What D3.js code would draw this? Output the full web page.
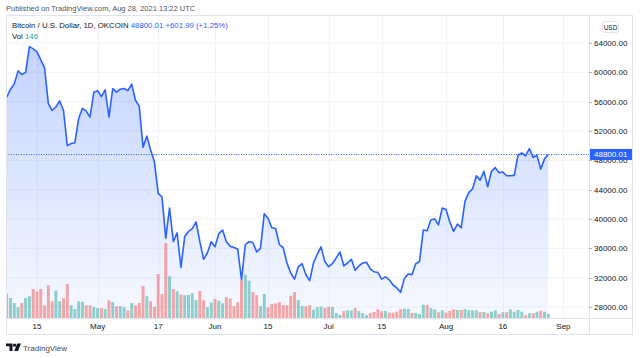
<!DOCTYPE html>
<html><head><meta charset="utf-8">
<script src="https://cdn.jsdelivr.net/npm/d3@7"></script>
<style>
html,body{margin:0;padding:0;background:#fff;}
svg{display:block;font-family:"Liberation Sans",Arial,sans-serif;}
</style></head>
<body><svg id="c" width="640" height="358"></svg>
<script>
// ---------- DATA ----------
const startDate = "2021-04-07";
const prevClose = 58000;
const closesApr = [56600,57700,58400,60200,59700,60000,63500,63200,62800,61700,60600,55700,54800,55300,56100,54800,50000,50300,50400,53700,55100,54700,53900,57300];
const closesMay = [57500,56700,57600,53900,57800,57300,57700,57800,57500,58400,56200,55400,49800,51300,49400,47800,43500,43000,37400,41500,36900,38100,33400,37600,38300,38700,39600,36900,34500,35400,36900];
const closesJun = [36200,38000,38500,36900,36300,36100,35900,31700,36500,36900,36800,35500,36000,40700,40100,38800,38700,36500,36100,34000,32600,31800,33500,33900,32400,31600,34000,35200,36200,34200];
const closesJul = [33500,33900,34700,35500,33600,34000,34500,33000,33600,34000,34100,33200,32800,32700,31800,32100,31700,31000,30600,30000,31900,32500,32400,33900,34200,38500,38400,39900,40000,39200,41500];
const closesAug = [41300,39600,38300,39300,38800,42400,43600,44100,45900,45300,46500,44400,46500,47000,46300,46400,45900,45900,45950,48700,49000,48600,49600,48400,48700,46800,48198.02,48800.01];

const volApr = [826,680,510,364,510,680,738,986,908,986,432,1112,568,928,568,670,1156,432,306,568,554,432,432,374];
const volMay = [340,340,306,602,544,398,398,364,262,510,432,510,1088,738,568,374,1496,816,2550,1418,986,908,792,772,782,840,612,918,602,367,527];
const volJun = [646,588,500,714,656,398,534,1268,1472,1268,884,772,398,816,364,476,500,534,442,432,758,884,612,408,398,432,282,364,384,340];
const volJul = [384,374,170,112,238,262,262,340,238,170,102,170,204,296,228,238,180,180,214,296,316,306,170,170,136,452,452,340,296,194,262];
const volAug = [180,238,296,272,272,306,262,262,262,204,204,160,214,262,136,194,194,296,214,272,214,92,160,160,214,248,214,146];

const yTicks = [28000,32000,36000,40000,44000,48000,52000,56000,60000,64000];
const xTickDates = ["2021-04-15","2021-05-01","2021-05-17","2021-06-01","2021-06-15","2021-07-01","2021-07-15","2021-08-01","2021-08-16","2021-09-01"];
const xTickLabels = ["15","May","17","Jun","15","Jul","15","Aug","16","Sep"];

const title = "Published on TradingView.com, Aug 28, 2021 13:22 UTC";
const symbolText = "Bitcoin / U.S. Dollar, 1D, OKCOIN";
const lastPriceText = "48800.01";
const changeText = "+601.99 (+1.25%)";
const lastVolText = "146";

// ---------- BUILD ----------
const closes = [].concat(closesApr, closesMay, closesJun, closesJul, closesAug);
const vols = [].concat(volApr, volMay, volJun, volJul, volAug);
const t0 = new Date(startDate + "T00:00:00Z");
const data = closes.map((c, i) => ({
  date: d3.utcDay.offset(t0, i),
  close: c,
  vol: vols[i],
  up: c >= (i === 0 ? prevClose : closes[i - 1])
}));

const L = 6, T = 15, PR = 589, FR = 633, PB = 318, FB = 335;
const svg = d3.select("#c");

const x = d3.scaleUtc()
  .domain([data[0].date, data[data.length - 1].date])
  .range([6.7, 548.3]);
const y = d3.scaleLinear().domain([28000, 64000]).range([307, 43]);
const yv = d3.scaleLinear().domain([0, d3.max(vols)]).range([PB, PB - 75]);

svg.append("rect").attr("width", 640).attr("height", 358).attr("fill", "#fff");

svg.append("clipPath").attr("id", "clip").append("rect")
  .attr("x", L).attr("y", T).attr("width", PR - L).attr("height", PB - T);

// grid
const grid = svg.append("g");
grid.selectAll("line.h").data(yTicks).join("line")
  .attr("x1", L).attr("x2", PR).attr("y1", d => y(d)).attr("y2", d => y(d))
  .attr("stroke", "#f0f3fa").attr("stroke-width", 1);
grid.selectAll("line.v").data(xTickDates).join("line")
  .attr("x1", d => Math.round(x(new Date(d + "T00:00:00Z"))) + 0.5)
  .attr("x2", d => Math.round(x(new Date(d + "T00:00:00Z"))) + 0.5)
  .attr("y1", T).attr("y2", PB)
  .attr("stroke", "#f0f3fa").attr("stroke-width", 1);

// gradient
const defs = svg.append("defs");
const grad = defs.append("linearGradient").attr("id", "ag")
  .attr("gradientUnits", "userSpaceOnUse")
  .attr("x1", 0).attr("x2", 0).attr("y1", y(d3.max(closes))).attr("y2", PB);
grad.append("stop").attr("offset", 0).attr("stop-color", "rgba(41,98,255,0.28)");
grad.append("stop").attr("offset", 1).attr("stop-color", "rgba(41,98,255,0.04)");

const plot = svg.append("g").attr("clip-path", "url(#clip)");

plot.append("path").datum(data)
  .attr("d", d3.area().x(d => x(d.date)).y0(PB).y1(d => y(d.close)))
  .attr("fill", "url(#ag)");

// volume
const bw = (x(data[1].date) - x(data[0].date)) * 0.78;
plot.selectAll("rect.v").data(data).join("rect")
  .attr("x", d => x(d.date) - bw / 2)
  .attr("width", bw)
  .attr("y", d => yv(d.vol))
  .attr("height", d => PB - yv(d.vol))
  .attr("fill", d => d.up ? "rgba(38,166,154,0.5)" : "rgba(239,83,80,0.5)");

// last price dotted line
const lastClose = closes[closes.length - 1];
plot.append("line")
  .attr("x1", L).attr("x2", PR)
  .attr("y1", Math.round(y(lastClose)) + 0.5).attr("y2", Math.round(y(lastClose)) + 0.5)
  .attr("stroke", "#2962ff").attr("stroke-width", 1).attr("stroke-dasharray", "1,1.5");

plot.append("path").datum(data)
  .attr("d", d3.line().x(d => x(d.date)).y(d => y(d.close)))
  .attr("fill", "none").attr("stroke", "#2962ff").attr("stroke-width", 1.6)
  .attr("stroke-linejoin", "round");

// frame
const fr = svg.append("g").attr("stroke", "#e0e3eb").attr("stroke-width", 1).attr("fill", "none");
fr.append("rect").attr("x", L + 0.5).attr("y", T + 0.5).attr("width", FR - L - 1).attr("height", FB - T - 1);
fr.append("line").attr("x1", L).attr("x2", FR).attr("y1", PB + 0.5).attr("y2", PB + 0.5);
fr.append("line").attr("x1", PR + 0.5).attr("x2", PR + 0.5).attr("y1", T).attr("y2", FB);

// y axis labels
const lastY = y(lastClose);
const ya = svg.append("g");
ya.selectAll("line").data(yTicks).join("line")
  .attr("x1", PR).attr("x2", PR + 3)
  .attr("y1", d => Math.round(y(d)) + 0.5).attr("y2", d => Math.round(y(d)) + 0.5)
  .attr("stroke", "#b2b5be");
ya.selectAll("text").data(yTicks).join("text")
  .attr("x", PR + 5).attr("y", d => y(d) + 3)
  .attr("font-size", 8).attr("fill", "#131722")
  .text(d => d3.format(".2f")(d));

// last price label (covers the tick label it sits on, as in the original)
svg.append("rect").attr("x", PR + 1).attr("y", lastY - 5.5).attr("width", FR - PR - 2).attr("height", 11)
  .attr("fill", "#2962ff");
svg.append("text").attr("x", PR + 5).attr("y", lastY + 3).attr("font-size", 8).attr("fill", "#fff")
  .text(lastPriceText);

// USD box
svg.append("rect").attr("x", 602.5).attr("y", 21.5).attr("width", 16).attr("height", 11).attr("rx", 2)
  .attr("fill", "#fff").attr("stroke", "#e0e3eb");
svg.append("text").attr("x", 610.5).attr("y", 29.5).attr("text-anchor", "middle")
  .attr("font-size", 6.5).attr("fill", "#131722").text("USD");

// x axis labels
svg.append("g").selectAll("text").data(xTickDates).join("text")
  .attr("x", d => x(new Date(d + "T00:00:00Z")))
  .attr("y", 329).attr("text-anchor", "middle")
  .attr("font-size", 8).attr("fill", "#131722")
  .text((d, i) => xTickLabels[i]);

// header texts
svg.append("text").attr("x", 6).attr("y", 11).attr("font-size", 7.5).attr("fill", "#50535e").text(title);
const lg = svg.append("text").attr("x", 12).attr("y", 28).attr("font-size", 7.8);
lg.append("tspan").attr("fill", "#131722").text(symbolText + "  ");
lg.append("tspan").attr("fill", "#2962ff").text(lastPriceText + "  " + changeText);
const vl = svg.append("text").attr("x", 12).attr("y", 39).attr("font-size", 7.8);
vl.append("tspan").attr("fill", "#131722").text("Vol  ");
vl.append("tspan").attr("fill", "#22ab94").text(lastVolText);

// footer logo
const logo = svg.append("g").attr("fill", "#131722");
logo.append("path").attr("d", "M6,343.5 H12.5 V351 H9.5 V346.3 H6 Z");
logo.append("circle").attr("cx", 14.6).attr("cy", 345.2).attr("r", 1.6);
logo.append("path").attr("d", "M17.2,343.5 H21 L18,351 H14.3 Z");
svg.append("text").attr("x", 23).attr("y", 350.5).attr("font-size", 8).attr("fill", "#4a4a4a").text("TradingView");
</script>
</body></html>
